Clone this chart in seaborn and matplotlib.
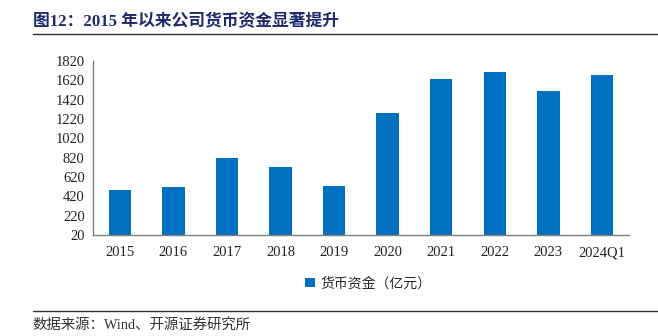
import matplotlib
matplotlib.use("Agg")
import matplotlib.pyplot as plt
import seaborn as sns
import pandas as pd
from matplotlib.lines import Line2D
from matplotlib.patches import Patch

categories = ["2015", "2016", "2017", "2018", "2019", "2020", "2021", "2022", "2023", "2024Q1"]
values = [485, 516, 816, 723, 527, 1282, 1633, 1709, 1509, 1677]
yticks = [20, 220, 420, 620, 820, 1020, 1220, 1420, 1620, 1820]
series_name = "货币资金（亿元）"

sns.set_theme(style="white")
cjk = ["Noto Sans CJK SC", "DejaVu Sans"]
serif = ["Liberation Serif", "DejaVu Serif"]
mixed = ["Liberation Serif", "Noto Sans CJK SC", "DejaVu Sans"]
plt.rcParams["font.family"] = mixed

df = pd.DataFrame({"cat": categories, "val": values})

fig = plt.figure(figsize=(6.58, 3.36), dpi=100)
ax = fig.add_axes([0.1413, 0.3006, 0.8142, 0.5179])
bar_color = "#0070C0"
sns.barplot(data=df, x="cat", y="val", color=bar_color, width=0.42, ax=ax,
            saturation=1, edgecolor="none")

ax.set_ylim(20, 1820)
ax.set_yticks(yticks)
ax.set_yticklabels([str(t) for t in yticks], family=serif, fontsize=10.5, color="#222222")
ax.set_xlim(-0.5, len(categories) - 0.5)
ax.set_xticks(range(len(categories)))
ax.set_xticklabels(categories, family=serif, fontsize=10.5, color="#222222")
ax.set_xticks([i + 0.5 for i in range(len(categories))], minor=True)
ax.tick_params(axis="x", which="major", length=0, pad=8)
ax.tick_params(axis="x", which="minor", length=4, direction="in", color="#555555", width=0.8)
ax.tick_params(axis="y", which="major", length=4, direction="in", color="#555555", width=0.8, pad=6)
ax.set_xlabel("")
ax.set_ylabel("")
for s in ["top", "right"]:
    ax.spines[s].set_visible(False)
for s in ["left", "bottom"]:
    ax.spines[s].set_color("#808080")
    ax.spines[s].set_linewidth(1.0)

handles = [Patch(facecolor=bar_color, edgecolor="none", label=series_name)]
fig.legend(handles=handles, loc="center", bbox_to_anchor=(0.56, 0.157), frameon=False,
           handlelength=0.7, handleheight=0.7, handletextpad=0.4,
           prop={"family": cjk, "size": 10})

fig.text(0.05, 0.935, "图12：2015 年以来公司货币资金显著提升", fontsize=12.1, fontweight="bold",
         color="#1F2A6B", family=mixed, va="center")
fig.add_artist(Line2D([0.05, 1.0], [0.9, 0.9], color="#333333", linewidth=1.0))
fig.add_artist(Line2D([0.05, 1.0], [0.074, 0.074], color="#333333", linewidth=1.0))
fig.text(0.05, 0.032, "数据来源：Wind、开源证券研究所", fontsize=10.4, color="#333333",
         family=mixed, va="center")

fig.savefig("out.png", dpi=100)
